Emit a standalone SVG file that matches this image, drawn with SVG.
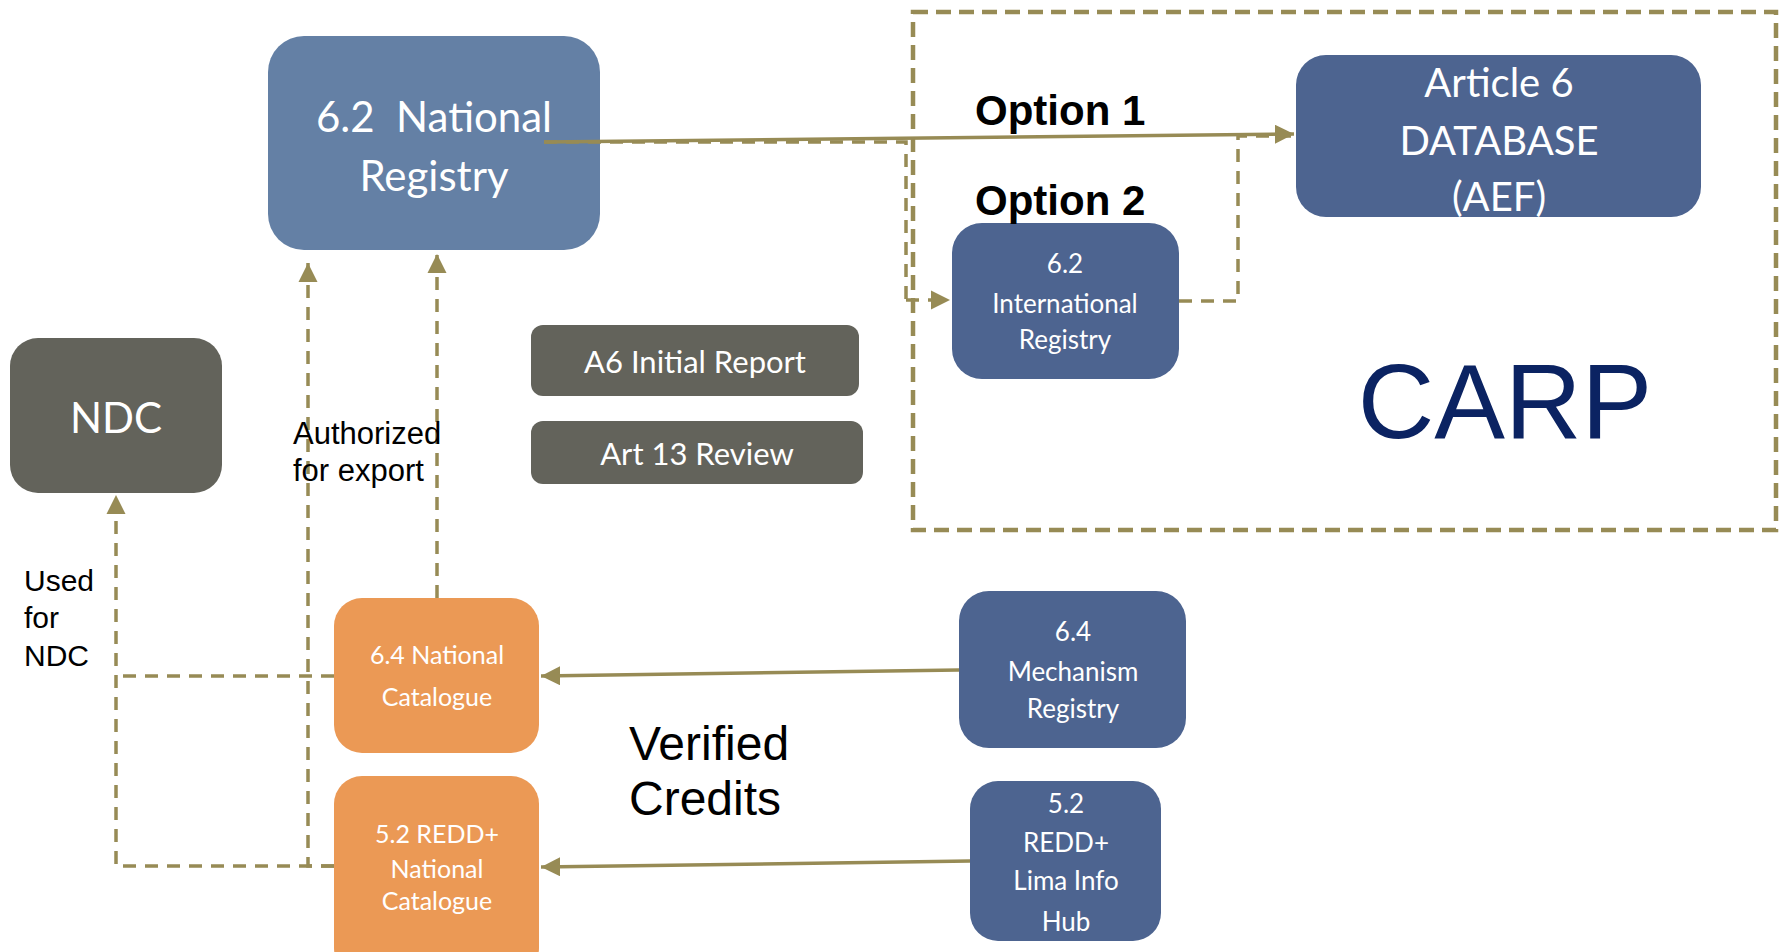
<svg xmlns="http://www.w3.org/2000/svg" width="1783" height="952" viewBox="0 0 1783 952">
  <style>
    .box-text { font-family: Lato, "Open Sans", "DejaVu Sans", sans-serif; fill: #ffffff; text-anchor: middle; }
    .label { font-family: "Liberation Sans", Arial, sans-serif; fill: #000000; }
    .solid { fill: none; stroke: #978b55; stroke-width: 3.5; }
    .dash { fill: none; stroke: #978b55; stroke-width: 3.5; stroke-dasharray: 13 9; }
    .blue { fill: #4d6490; }
    .grey { fill: #63635b; }
    .orange { fill: #eb9955; }
  </style>
  <defs>
    <marker id="arrow" viewBox="0 0 10 10" refX="10" refY="5" markerWidth="5.5" markerHeight="5.5" markerUnits="strokeWidth" orient="auto">
      <path d="M0,0 L10,5 L0,10 z" fill="#978b55"/>
    </marker>
  </defs>
  <rect width="1783" height="952" fill="#ffffff"/>

  <!-- CARP boundary -->
  <g id="carp">
    <rect x="913" y="12" width="863" height="518" fill="none" stroke="#978b55" stroke-width="4.5" stroke-dasharray="15 8"/>
    <text x="1505" y="438" font-family="'Liberation Sans', Arial, sans-serif" font-size="106" fill="#0b2362" text-anchor="middle">CARP</text>
  </g>

  <g id="national-registry">
    <rect x="268" y="36" width="332" height="214" rx="36" fill="#6480a5"/>
    <text class="box-text" font-size="42" xml:space="preserve"><tspan x="434" y="132">6.2  National</tspan></text>
    <text class="box-text" font-size="42" x="434" y="191">Registry</text>
  </g>

  <g id="article6-database">
    <rect class="blue" x="1296" y="55" width="405" height="162" rx="30"/>
    <text class="box-text" font-size="40" x="1499" y="97">Article 6</text>
    <text class="box-text" font-size="40" x="1499" y="155">DATABASE</text>
    <text class="box-text" font-size="40" x="1499" y="211">(AEF)</text>
  </g>

  <g id="international-registry">
    <rect class="blue" x="952" y="223" width="227" height="156" rx="30"/>
    <text class="box-text" font-size="26" x="1065" y="273">6.2</text>
    <text class="box-text" font-size="26" x="1065" y="313">International</text>
    <text class="box-text" font-size="26" x="1065" y="349">Registry</text>
  </g>

  <g id="ndc">
    <rect class="grey" x="10" y="338" width="212" height="155" rx="28"/>
    <text class="box-text" font-size="42" x="116" y="433">NDC</text>
  </g>

  <g id="a6-initial-report">
    <rect class="grey" x="531" y="325" width="328" height="71" rx="12"/>
    <text class="box-text" font-size="31" x="695" y="373">A6 Initial Report</text>
  </g>

  <g id="art13-review">
    <rect class="grey" x="531" y="421" width="332" height="63" rx="12"/>
    <text class="box-text" font-size="31" x="697" y="465">Art 13 Review</text>
  </g>

  <g id="national-catalogue-64">
    <rect class="orange" x="334" y="598" width="205" height="155" rx="28"/>
    <text class="box-text" font-size="25" x="437" y="664">6.4 National</text>
    <text class="box-text" font-size="25" x="437" y="706">Catalogue</text>
  </g>

  <g id="redd-catalogue-52">
    <rect class="orange" x="334" y="776" width="205" height="200" rx="28"/>
    <text class="box-text" font-size="25" x="437" y="843">5.2 REDD+</text>
    <text class="box-text" font-size="25" x="437" y="878">National</text>
    <text class="box-text" font-size="25" x="437" y="910">Catalogue</text>
  </g>

  <g id="mechanism-registry">
    <rect class="blue" x="959" y="591" width="227" height="157" rx="30"/>
    <text class="box-text" font-size="26" x="1073" y="641">6.4</text>
    <text class="box-text" font-size="26" x="1073" y="681">Mechanism</text>
    <text class="box-text" font-size="26" x="1073" y="718">Registry</text>
  </g>

  <g id="lima-info-hub">
    <rect class="blue" x="970" y="781" width="191" height="160" rx="28"/>
    <text class="box-text" font-size="26" x="1066" y="813">5.2</text>
    <text class="box-text" font-size="26" x="1066" y="852">REDD+</text>
    <text class="box-text" font-size="26" x="1066" y="890">Lima Info</text>
    <text class="box-text" font-size="26" x="1066" y="931">Hub</text>
  </g>

  <!-- connectors -->
  <g id="connectors">
    <!-- Option 2 route via the international registry -->
    <path class="dash" d="M544,142 L906,142 L906,300"/>
    <path class="dash" d="M906,300 L950,300" marker-end="url(#arrow)"/>
    <path class="dash" d="M1179,301 L1238,301 L1238,136 L1294,136"/>
    <!-- Option 1 direct -->
    <path class="solid" d="M544,142 L1294,134" marker-end="url(#arrow)"/>
    <!-- authorized for export -->
    <path class="dash" d="M437,598 L437,254" marker-end="url(#arrow)"/>
    <path class="dash" d="M334,866 L308,866 L308,263" marker-end="url(#arrow)"/>
    <!-- used for NDC -->
    <path class="dash" d="M334,676 L116,676"/>
    <path class="dash" d="M334,866 L116,866 L116,495" marker-end="url(#arrow)"/>
    <!-- verified credits -->
    <path class="solid" d="M959,670 L541,676" marker-end="url(#arrow)"/>
    <path class="solid" d="M970,861 L541,867" marker-end="url(#arrow)"/>
  </g>

  <g id="labels">
    <text class="label" font-size="42" font-weight="bold" x="975" y="125">Option 1</text>
    <text class="label" font-size="42" font-weight="bold" x="975" y="215">Option 2</text>
    <text class="label" font-size="31" x="293" y="444">Authorized</text>
    <text class="label" font-size="31" x="293" y="481">for export</text>
    <text class="label" font-size="30" x="24" y="591">Used</text>
    <text class="label" font-size="30" x="24" y="628">for</text>
    <text class="label" font-size="30" x="24" y="666">NDC</text>
    <text class="label" font-size="48" x="629" y="760">Verified</text>
    <text class="label" font-size="48" x="629" y="815">Credits</text>
  </g>
</svg>
